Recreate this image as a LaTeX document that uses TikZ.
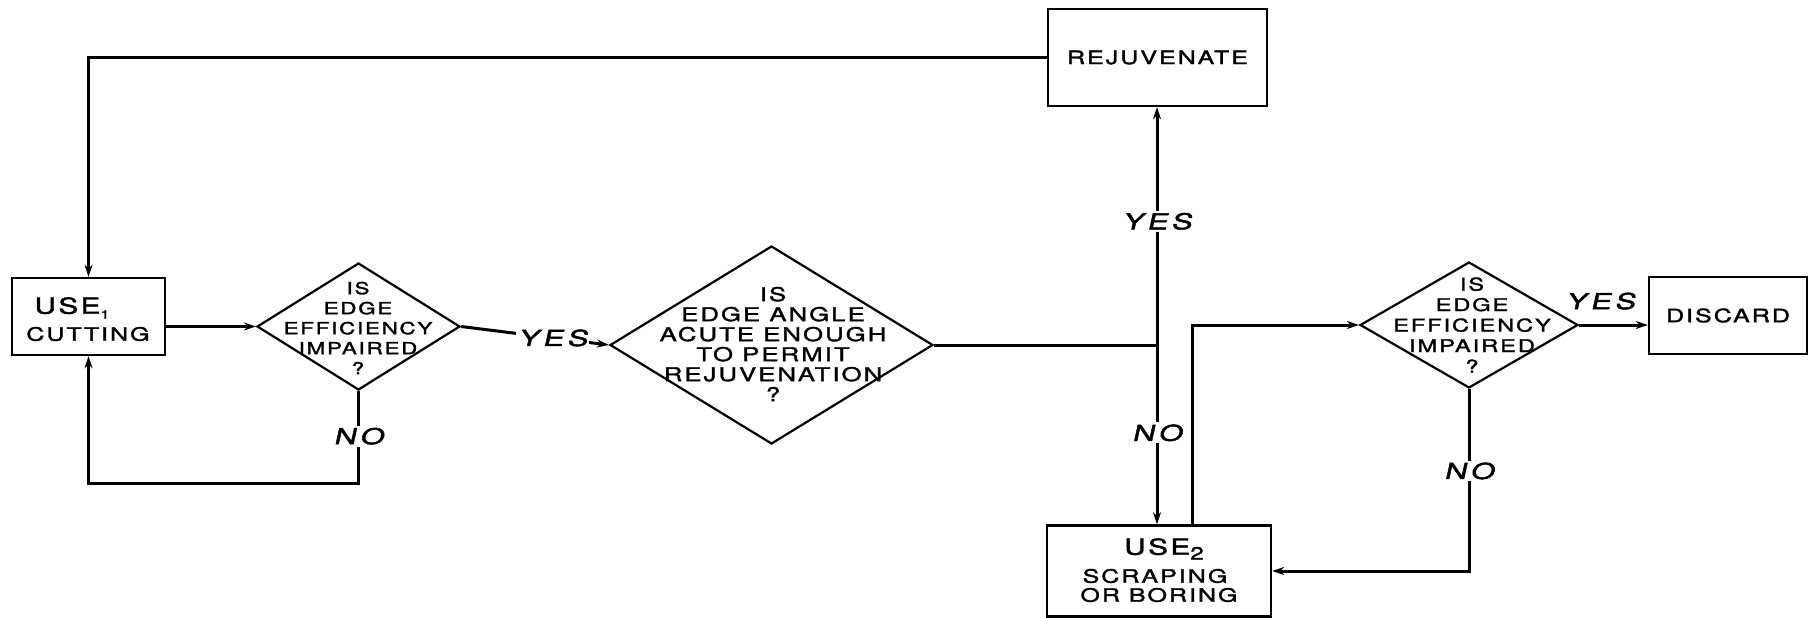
\documentclass[tikz,border=0pt]{standalone}
\usepackage{fontspec}
\usetikzlibrary{shapes.geometric,arrows.meta,calc}
\newfontfamily\lblfont[FakeStretch=1.35,LetterSpace=11,FakeBold=1.8]{TeX Gyre Heros}
\newfontfamily\ynfont[FakeStretch=1.4,FakeSlant=0.22,LetterSpace=17,FakeBold=2]{TeX Gyre Heros}
\begin{document}
\begin{tikzpicture}[x=1pt,y=-1pt,
  procbox/.style={draw, line width=2.4pt, rectangle, inner sep=0pt, font=\lblfont\fontsize{18.5}{20}\selectfont},
  decision/.style={draw, line width=2.2pt, diamond, inner sep=0pt},
  txt/.style={align=center, inner sep=0pt, font=\lblfont\fontsize{16.5}{20}\selectfont},
  bigtxt/.style={align=center, inner sep=0pt, font=\lblfont\fontsize{19}{20}\selectfont},
  usetxt/.style={inner sep=0pt, font=\lblfont\fontsize{22}{22}\selectfont},
  yn/.style={font=\ynfont\fontsize{22}{22}\selectfont, fill=white, inner sep=2pt},
  conn/.style={line width=3pt},
  arr/.style={conn, -{Stealth[length=12pt,width=8pt]}}]
\useasboundingbox[fill=white] (0,0) rectangle (1815,618);

% boxes
\node[procbox, minimum width=153pt, minimum height=77pt] (use1) at (88.5,316.5) {};
\node[usetxt] (use1a) at (72,308) {USE\raisebox{-5pt}{\fontsize{12}{12}\selectfont 1}};
\node[txt, font=\lblfont\fontsize{18.5}{20}\selectfont] (use1b) at (88,334) {CUTTING};

\node[procbox, minimum width=219pt, minimum height=97pt] (rej) at (1157.5,57.5) {REJUVENATE};
\node[procbox, minimum width=158pt, minimum height=77pt] (disc) at (1728,315.5) {DISCARD};

\node[procbox, minimum width=224pt, minimum height=91pt] (use2) at (1159,571) {};
\node[usetxt] (use2a) at (1164,549) {USE\raisebox{-5pt}{\fontsize{18}{18}\selectfont 2}};
\node[txt, font=\lblfont\fontsize{18.5}{20}\selectfont] (use2b) at (1155,576) {SCRAPING};
\node[txt, font=\lblfont\fontsize{18.5}{20}\selectfont] (use2c) at (1159,595) {OR BORING};

% decisions
\node[decision, minimum width=203pt, minimum height=127pt] (d1) at (358.5,326.5) {};
\node[txt] (d1t) at (358,328) {IS\\EDGE\\EFFICIENCY\\IMPAIRED\\?};

\node[decision, minimum width=323pt, minimum height=198pt] (d2) at (771.5,345) {};
\node[bigtxt] (d2t) at (773,344) {IS\\EDGE ANGLE\\ACUTE ENOUGH\\TO PERMIT\\REJUVENATION\\?};

\node[decision, minimum width=218pt, minimum height=126pt] (d3) at (1469,325) {};
\node[txt, font=\lblfont\fontsize{17.5}{20.5}\selectfont] (d3t) at (1472,325) {IS\\EDGE\\EFFICIENCY\\IMPAIRED\\?};

% connectors
\draw[arr] (rej.west) -| (use1.north);
\draw[arr] (use1.east |- d1.west) -- (d1.west);
\draw[arr] (d1.south) -- node[yn, pos=0.49]{NO} ++(0,92) -| (use1.south);
\draw[arr] (d1.east) -- node[yn, pos=0.62]{YES} (d2.west);

\coordinate (J) at (1157,345);
\draw[conn] (d2.east) -- (J);
\draw[arr] (J) -- node[yn, pos=0.52]{YES} (J |- rej.south);
\draw[arr] (J) -- node[yn, pos=0.49]{NO} (J |- use2.north);

\draw[arr] ([xshift=33pt]use2.north) |- (d3.west);
\draw[arr] (d3.east) -- node[yn, fill=none, above=12pt, pos=0.31]{YES} (d3.east -| disc.west);
\draw[arr] (d3.south) -- node[yn, pos=0.45]{NO} (d3.south |- use2.east) -- (use2.east);
\end{tikzpicture}
\end{document}
